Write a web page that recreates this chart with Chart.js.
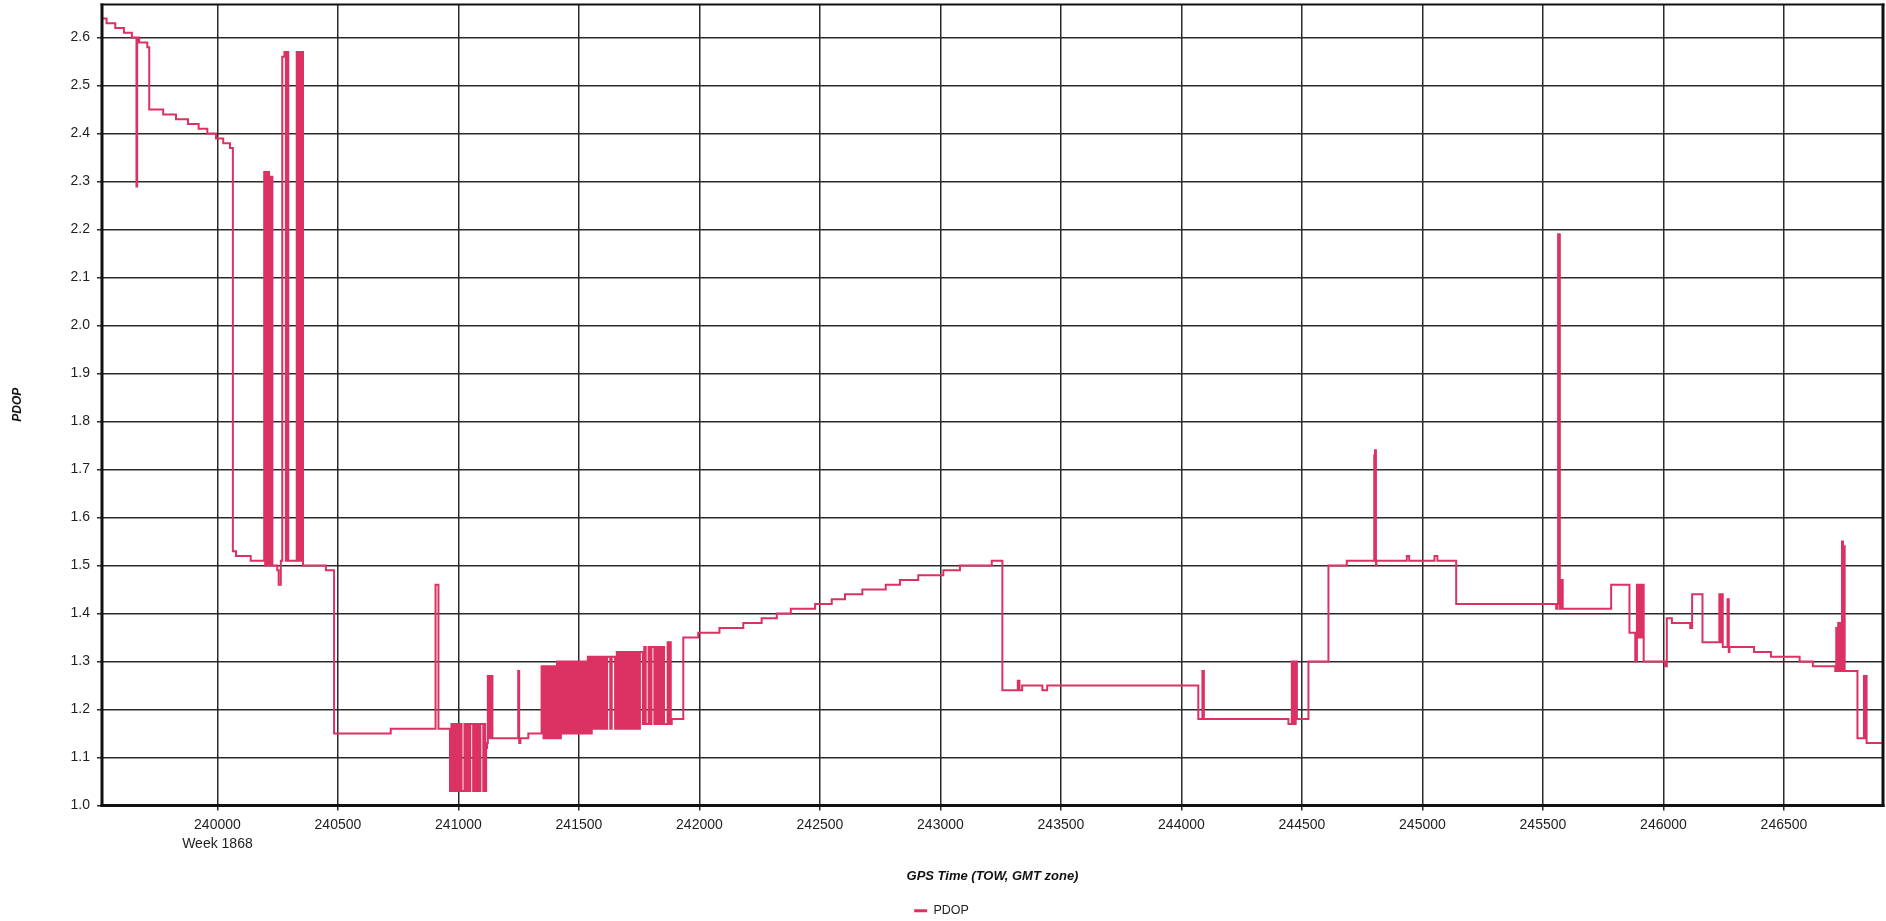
<!DOCTYPE html>
<html>
<head>
<meta charset="utf-8">
<title>PDOP</title>
<script src="https://cdn.jsdelivr.net/npm/chart.js"></script>
<style>
  html, body { margin: 0; padding: 0; background: #fff; }
  #wrap { width: 1886px; height: 921px; position: relative; }
</style>
</head>
<body>
<div id="wrap"><canvas id="pdopChart"></canvas></div>
<script>
// GPS time of week (s) at which each PDOP value begins; each value holds until the next entry.

// Start of session: slow decline from 2.64, early spikes
const towLead = [239522, 239540, 239576, 239612, 239645, 239664, 239667, 239675, 239709, 239717,
  239775, 239828, 239878, 239922, 239958, 239994, 240024, 240052, 240064, 240077,
  240138, 240194, 240198, 240202, 240206, 240210, 240214, 240218, 240222, 240225,
  240228, 240248, 240254, 240263, 240269, 240278, 240284, 240288, 240294, 240329,
  240333, 240337, 240341, 240345, 240349, 240352, 240355, 240450];
const pdopLead = [2.64, 2.63, 2.62, 2.61, 2.60, 2.29, 2.60, 2.59, 2.58, 2.45,
  2.44, 2.43, 2.42, 2.41, 2.40, 2.39, 2.38, 2.37, 1.53, 1.52,
  1.51, 2.32, 1.50, 2.32, 1.50, 2.32, 1.50, 2.31, 1.50, 2.31,
  1.50, 1.49, 1.46, 1.51, 2.56, 2.57, 1.51, 2.57, 1.51, 2.57,
  1.51, 2.57, 1.51, 2.57, 1.51, 2.57, 1.50, 1.49];

// Low plateau and the 1.03 / 1.17 flicker
const towMid = [240484, 240719, 240905, 240917, 240965, 240971, 240977, 240983, 240989, 240995,
  241001, 241007, 241013, 241025, 241031, 241037, 241043, 241049, 241061, 241067,
  241073, 241079, 241085, 241091, 241103, 241107, 241111, 241115, 241119, 241122,
  241126, 241130, 241134, 241137, 241141, 241248, 241252, 241257, 241290];
const pdopMid = [1.15, 1.16, 1.46, 1.16, 1.03, 1.17, 1.03, 1.17, 1.03, 1.17,
  1.03, 1.17, 1.03, 1.17, 1.03, 1.17, 1.03, 1.17, 1.03, 1.17,
  1.03, 1.17, 1.03, 1.17, 1.03, 1.17, 1.03, 1.12, 1.13, 1.27,
  1.14, 1.27, 1.14, 1.27, 1.14, 1.28, 1.13, 1.14, 1.15];

// Rapid switching between two constellations
const towBurst = [241345, 241353, 241361, 241369, 241377, 241385, 241393, 241401, 241409, 241417,
  241425, 241433, 241441, 241449, 241457, 241465, 241473, 241481, 241489, 241497,
  241505, 241513, 241521, 241529, 241537, 241545, 241553, 241561, 241569, 241577,
  241585, 241593, 241601, 241609, 241617, 241630, 241636, 241650, 241657, 241665,
  241673, 241681, 241689, 241697, 241705, 241713, 241721, 241729, 241737, 241745,
  241753, 241765, 241771, 241777, 241789, 241795, 241801, 241813, 241819, 241827,
  241835, 241843, 241849, 241853, 241868, 241872, 241876, 241881];
const pdopBurst = [1.29, 1.14, 1.29, 1.14, 1.29, 1.14, 1.29, 1.14, 1.30, 1.14,
  1.30, 1.15, 1.30, 1.15, 1.30, 1.15, 1.30, 1.15, 1.30, 1.15,
  1.30, 1.15, 1.30, 1.15, 1.31, 1.15, 1.31, 1.16, 1.31, 1.16,
  1.31, 1.16, 1.31, 1.16, 1.31, 1.16, 1.31, 1.16, 1.32, 1.16,
  1.32, 1.16, 1.32, 1.16, 1.32, 1.16, 1.32, 1.16, 1.32, 1.16,
  1.32, 1.17, 1.33, 1.17, 1.33, 1.17, 1.33, 1.17, 1.33, 1.17,
  1.33, 1.17, 1.33, 1.17, 1.34, 1.17, 1.34, 1.17];

// Steady climb, then drop to 1.25
const towRise = [241885, 241933, 241995, 242083, 242182, 242258, 242321, 242379, 242480, 242549,
  242604, 242676, 242773, 242832, 242908, 243012, 243081, 243213, 243257, 243321,
  243328, 243339, 243423, 243443];
const pdopRise = [1.18, 1.35, 1.36, 1.37, 1.38, 1.39, 1.40, 1.41, 1.42, 1.43,
  1.44, 1.45, 1.46, 1.47, 1.48, 1.49, 1.50, 1.51, 1.24, 1.26,
  1.24, 1.25, 1.24, 1.25];

// Remainder of the session
const towTail = [244070, 244087, 244093, 244444, 244458, 244462, 244466, 244470, 244474, 244479,
  244527, 244610, 244686, 244800, 244803, 244807, 244809, 244935, 244945, 245050,
  245062, 245140, 245555, 245560, 245563, 245570, 245573, 245576, 245579, 245582,
  245783, 245859, 245883, 245890, 245894, 245898, 245902, 245906, 245910, 245914,
  245918, 246007, 246014, 246035, 246111, 246119, 246162, 246232, 246237, 246241,
  246246, 246266, 246271, 246274, 246376, 246446, 246565, 246620, 246713, 246717,
  246721, 246725, 246729, 246733, 246737, 246741, 246745, 246748, 246752, 246805,
  246832, 246836, 246839, 246843, 246911];
const pdopTail = [1.18, 1.28, 1.18, 1.17, 1.30, 1.17, 1.30, 1.17, 1.30, 1.18,
  1.30, 1.50, 1.51, 1.73, 1.74, 1.50, 1.51, 1.52, 1.51, 1.52,
  1.51, 1.42, 1.41, 1.42, 2.19, 1.41, 1.47, 1.41, 1.47, 1.41,
  1.46, 1.36, 1.30, 1.46, 1.35, 1.46, 1.35, 1.46, 1.35, 1.46,
  1.30, 1.29, 1.39, 1.38, 1.37, 1.44, 1.34, 1.44, 1.34, 1.44,
  1.33, 1.43, 1.32, 1.33, 1.32, 1.31, 1.30, 1.29, 1.28, 1.37,
  1.28, 1.38, 1.28, 1.38, 1.28, 1.55, 1.28, 1.54, 1.28, 1.14,
  1.27, 1.14, 1.27, 1.13, 1.13];

// Axis ranges and tick labels
const towMin = 239521, towMax = 246911;
const towTicks = [240000, 240500, 241000, 241500, 242000, 242500, 243000,
  243500, 244000, 244500, 245000, 245500, 246000, 246500];
const pdopMin = 1.0, pdopMax = 2.67;
const pdopTicks = [1.0, 1.1, 1.2, 1.3, 1.4, 1.5, 1.6, 1.7, 1.8, 1.9,
  2.0, 2.1, 2.2, 2.3, 2.4, 2.5, 2.6];
const weekLabel = 'Week 1868';
const weekTickTow = 240000;
const xTitle = 'GPS Time (TOW, GMT zone)';
const yTitle = 'PDOP';
const seriesName = 'PDOP';

const tow = [].concat(towLead, towMid, towBurst, towRise, towTail);
const pdop = [].concat(pdopLead, pdopMid, pdopBurst, pdopRise, pdopTail);
const points = tow.map((t, i) => ({ x: t, y: pdop[i] }));

const LINE_COLOR = '#dc3163';
const GRID_COLOR = '#2b2b2b';
const TEXT_COLOR = '#1e1e1e';
const FONT = "'Liberation Sans', Arial, sans-serif";

// Heavy frame around the plotting area
const framePlugin = {
  id: 'plotFrame',
  afterDatasetsDraw(chart) {
    const { ctx, chartArea: a } = chart;
    ctx.save();
    ctx.fillStyle = '#111';
    const w = a.right - a.left, h = a.bottom - a.top;
    ctx.fillRect(a.left - 1.5, a.top - 0.5, 3, h + 2);       // left
    ctx.fillRect(a.left - 1.5, a.bottom - 1.5, w + 3, 3);    // bottom
    ctx.fillRect(a.right - 1.5, a.top - 0.5, 3, h + 2);      // right
    ctx.fillRect(a.left - 1.5, a.top - 0.5, w + 3, 2);       // top
    ctx.restore();
  }
};

new Chart(document.getElementById('pdopChart'), {
  type: 'line',
  data: {
    datasets: [{
      label: seriesName,
      data: points,
      borderColor: LINE_COLOR,
      backgroundColor: LINE_COLOR,
      borderWidth: 2,
      pointRadius: 0,
      pointHoverRadius: 0,
      stepped: true,
      fill: false,
      tension: 0
    }]
  },
  options: {
    responsive: true,
    maintainAspectRatio: false,
    animation: false,
    parsing: false,
    normalized: true,
    layout: { padding: { top: 4, right: 3, left: 0, bottom: -6 } },
    plugins: {
      tooltip: { enabled: false },
      legend: {
        position: 'bottom',
        labels: {
          boxWidth: 13,
          boxHeight: 3,
          padding: 10,
          color: TEXT_COLOR,
          font: { family: FONT, size: 12.5 },
          generateLabels(chart) {
            const items = Chart.defaults.plugins.legend.labels.generateLabels(chart);
            items.forEach(it => { it.lineWidth = 0; it.fillStyle = LINE_COLOR; });
            return items;
          }
        }
      }
    },
    scales: {
      x: {
        type: 'linear',
        min: towMin,
        max: towMax,
        border: { display: false },
        grid: { color: GRID_COLOR, lineWidth: 1.5, tickLength: 5, drawTicks: true },
        afterBuildTicks(scale) { scale.ticks = towTicks.map(v => ({ value: v })); },
        ticks: {
          autoSkip: false,
          maxRotation: 0,
          minRotation: 0,
          padding: 5,
          color: TEXT_COLOR,
          font: { family: FONT, size: 14, lineHeight: 1.35 },
          callback: v => (v === weekTickTow ? [String(v), weekLabel] : String(v))
        },
        title: {
          display: true,
          text: xTitle,
          color: '#111',
          font: { family: FONT, size: 13, weight: 'bold', style: 'italic' },
          padding: { top: 0, bottom: 10 }
        },
        afterFit(scale) {
          scale.height = 89;
          scale.paddingLeft = 0;
          scale.paddingRight = 0;
        }
      },
      y: {
        type: 'linear',
        min: pdopMin,
        max: pdopMax,
        border: { display: false },
        grid: { color: GRID_COLOR, lineWidth: 1.5, tickLength: 5, drawTicks: true },
        afterBuildTicks(scale) { scale.ticks = pdopTicks.map(v => ({ value: v })); },
        ticks: {
          autoSkip: false,
          padding: 7,
          color: TEXT_COLOR,
          font: { family: FONT, size: 14 },
          callback: v => Number(v).toFixed(1)
        },
        title: {
          display: true,
          text: yTitle,
          color: '#111',
          font: { family: FONT, size: 12, weight: 'bold', style: 'italic' },
          padding: { top: 10, bottom: 0 }
        },
        afterFit(scale) {
          scale.width = 102;
          scale.paddingTop = 0;
          scale.paddingBottom = 0;
        }
      }
    }
  },
  plugins: [framePlugin]
});
</script>
</body>
</html>
